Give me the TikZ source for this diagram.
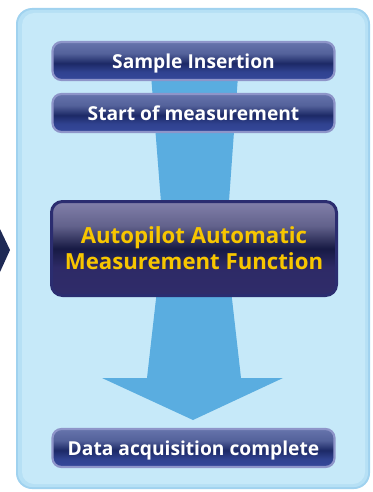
\documentclass[tikz,border=0pt]{standalone}
\usepackage{fontspec}
\setmainfont{Open Sans}
\usetikzlibrary{calc}

\definecolor{panelrim}{HTML}{A0D2EF}
\definecolor{panelmid}{HTML}{B6E0F5}
\definecolor{panelfill}{HTML}{C6E9F9}
\definecolor{flowblue}{HTML}{5AADE0}
\definecolor{chevnavy}{HTML}{1E2A55}
\definecolor{btnrim}{HTML}{8E95C9}
\definecolor{btnhigh}{HTML}{6674AC}
\definecolor{btndark}{HTML}{1C2966}
\definecolor{btnlow}{HTML}{35489A}
\definecolor{autorim}{HTML}{2B2D70}
\definecolor{autohigh}{HTML}{8280AA}
\definecolor{autodark}{HTML}{171A44}
\definecolor{autolow}{HTML}{302C6A}
\definecolor{autotext}{HTML}{F7C600}

% glossy fills, path maps onto 25bp..75bp
\pgfdeclareverticalshading{btnshade}{100bp}{color(0bp)=(btnlow); color(25bp)=(btnlow);
  color(36bp)=(btnlow!80!btndark); color(47bp)=(btndark); color(60bp)=(btnhigh!75!btndark);
  color(75bp)=(btnhigh); color(100bp)=(btnhigh)}
\pgfdeclareverticalshading{autoshade}{100bp}{color(0bp)=(autolow); color(25bp)=(autolow);
  color(40bp)=(autolow!90!autodark); color(50bp)=(autodark); color(62bp)=(autohigh!70!autodark);
  color(75bp)=(autohigh); color(100bp)=(autohigh)}

\tikzset{
  stagebox/.style={draw=btnrim, line width=2.2pt, rounded corners=9pt, shading=btnshade,
    minimum width=282pt, minimum height=38pt, inner sep=0pt, text=white, text depth=0pt,
    font=\fontsize{19.2}{22}\selectfont\bfseries},
  autobox/.style={draw=autorim, line width=3pt, rounded corners=11pt, shading=autoshade,
    minimum width=285pt, minimum height=94pt, inner sep=0pt, text=autotext, align=center,
    font=\fontsize{22.2}{26}\selectfont\bfseries},
}

\begin{document}
\begin{tikzpicture}[x=1pt,y=-1pt]
  \useasboundingbox (0,0) rectangle (372,492);

  % panel with a soft rim
  \fill[panelrim, rounded corners=16pt] (16,8) rectangle (370,489);
  \fill[panelmid, rounded corners=14pt] (18,10) rectangle (368,487);
  \fill[panelfill, rounded corners=12pt] (22,13) rectangle (365,484);

  % tip of the neighbouring chevron
  \fill[chevnavy] (0,229) -- (10,250) -- (0,272) -- cycle;

  % big flow arrow behind the boxes
  \fill[flowblue] (150,62) -- (239,62) -- (228,215) -- (162,215) -- cycle;
  \fill[flowblue] (157,290) -- (231,290) -- (241,378) -- (283,378)
    -- (193,420) -- (102,378) -- (147,378) -- cycle;

  \node[stagebox] (sample) at (193.5,61) {Sample Insertion};
  \node[stagebox] (start) at (193.5,113) {Start of measurement};
  \node[autobox] (autopilot) at (194,248.5) {Autopilot Automatic\\Measurement Function};
  \node[stagebox] (done) at (193.5,448) {Data acquisition complete};
\end{tikzpicture}
\end{document}
